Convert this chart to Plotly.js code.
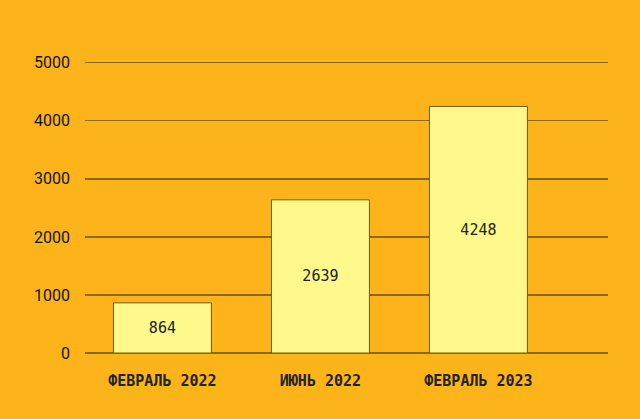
<!DOCTYPE html>
<html>
<head>
<meta charset="utf-8">
<script src="https://cdn.plot.ly/plotly-3.0.1.min.js"></script>
<style>html,body{margin:0;padding:0;background:#FDB41B;}</style>
</head>
<body>
<div id="chart" style="width:640px;height:419px;"></div>
<script>
const categories = ["ФЕВРАЛЬ 2022", "ИЮНЬ 2022", "ФЕВРАЛЬ 2023"];
const values = [864, 2639, 4248];
const barLabels = ["864", "2639", "4248"];
const yTicks = [0, 1000, 2000, 3000, 4000, 5000];

const trace = {
  type: "bar",
  x: categories,
  y: values,
  text: barLabels,
  textposition: "inside",
  insidetextanchor: "middle",
  textangle: 0,
  textfont: {family: "DejaVu Sans Mono", size: 15, color: "#222"},
  marker: {color: "#FFF98C", line: {color: "#6E5A16", width: 1}},
  width: 0.62,
  hoverinfo: "none"
};

const layout = {
  width: 640, height: 419,
  paper_bgcolor: "#FDB41B",
  plot_bgcolor: "#FDB41B",
  margin: {l: 85, r: 32, t: 57, b: 66},
  showlegend: false,
  xaxis: {
    type: "category",
    range: [-0.49, 2.82],
    showgrid: false, zeroline: false, showline: false,
    ticks: "",
    ticklabelstandoff: 17,
    tickfont: {family: "DejaVu Sans Mono", size: 15, color: "#222", weight: "bold"}
  },
  yaxis: {
    range: [0, 5100],
    tickvals: yTicks,
    ticktext: yTicks.map(String),
    showgrid: true, gridcolor: "#8A6814", gridwidth: 1.3,
    zeroline: true, zerolinecolor: "#8A6814", zerolinewidth: 1.3,
    showline: false, ticks: "",
    ticklabelstandoff: 14,
    tickfont: {family: "Roboto", size: 16, color: "#111"}
  }
};

Plotly.newPlot("chart", [trace], layout, {displayModeBar: false, staticPlot: true});
</script>
</body>
</html>
